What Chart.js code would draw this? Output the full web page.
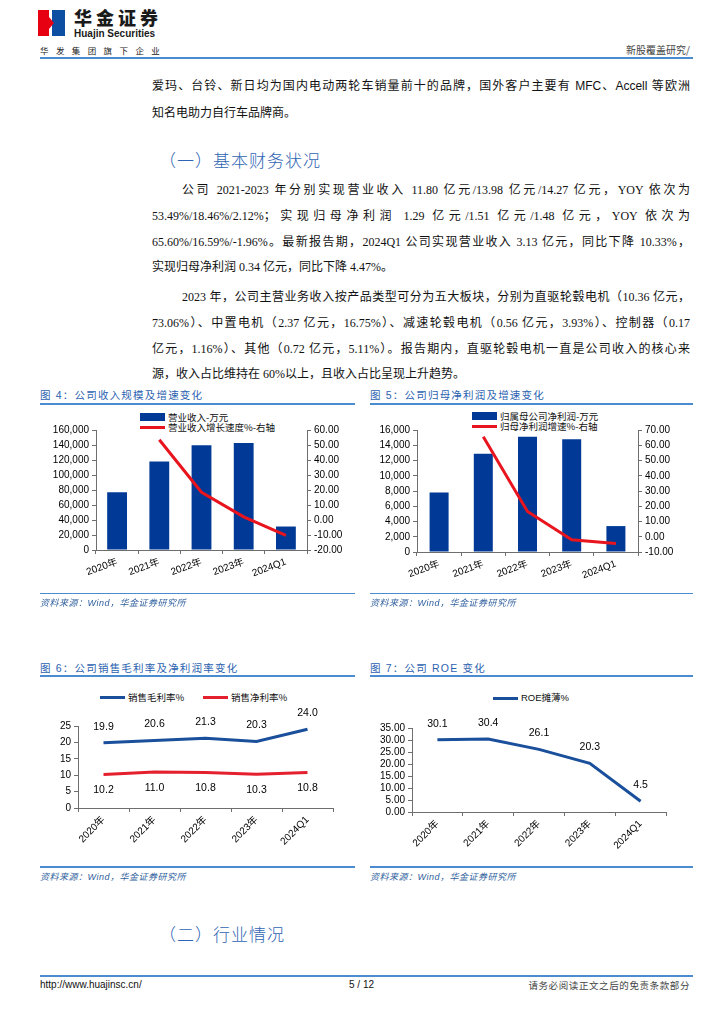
<html>
<head>
<meta charset="utf-8">
<script src="https://cdn.jsdelivr.net/npm/chart.js@4.4.1/dist/chart.umd.min.js"></script>
<style>
  body { margin: 0; width: 724px; height: 1024px; background: #fff; position: relative; overflow: hidden;
         font-family: "Liberation Sans", "Noto Sans CJK SC", sans-serif; color: #000; }
  .abs { position: absolute; }
  .line { position: absolute; height: 2px; background: #4a8ccf; }
  .body { position: absolute; font-family: "Liberation Serif", "Noto Sans CJK SC", serif; font-size: 12px;
          line-height: 16px; text-align: justify; text-align-last: justify; color: #111; }
  .last { text-align-last: left; }
  .head { position: absolute; font-family: "Noto Sans CJK SC"; font-size: 17px; font-weight: 300; color: #2e64b4;
          letter-spacing: 1px; line-height: 20px; }
  .figt { position: absolute; font-family: "Liberation Sans", "Noto Sans CJK SC"; font-size: 10.5px; color: #2b62b0;
          letter-spacing: 1.2px; line-height: 14px; }
  .src { position: absolute; font-family: "Liberation Sans", "Noto Sans CJK SC"; font-size: 9px; font-style: italic;
         color: #2f5f9e; line-height: 12px; letter-spacing: 0.5px; }
  .leg { position: absolute; font-family: "Noto Sans CJK SC"; font-size: 9.5px; color: #111; line-height: 12px; white-space: nowrap; }
  .box { position: absolute; }
</style>
</head>
<body>
<script>
  // chart values
  var years = ["2020年", "2021年", "2022年", "2023年", "2024Q1"];
  var revenue = [76900, 118000, 139800, 142700, 31300];          // 万元
  var revenueGrowth = [null, 53.49, 18.46, 2.12, -10.33];        // %
  var netProfit = [7800, 12900, 15100, 14800, 3400];             // 万元
  var profitGrowth = [null, 65.60, 16.59, -1.96, -4.47];         // %
  var grossMargin = [19.9, 20.6, 21.3, 20.3, 24.0];
  var netMargin = [10.2, 11.0, 10.8, 10.3, 10.8];
  var roe = [30.1, 30.4, 26.1, 20.3, 4.5];

  var revenueTicks = { min: 0, max: 160000, step: 20000 };
  var revenueGrowthTicks = { min: -20, max: 60, step: 10 };
  var profitTicks = { min: 0, max: 16000, step: 2000 };
  var profitGrowthTicks = { min: -10, max: 70, step: 10 };
  var marginTicks = { min: 0, max: 25, step: 5 };
  var roeTicks = { min: 0, max: 35, step: 5 };
</script>

<!-- header -->
<div class="abs" style="left:38px;top:10px;width:11px;height:26px;background:#e60012;"></div>
<div class="abs" style="left:52px;top:10px;width:13px;height:26px;background:#0b4ea2;"></div>
<div class="abs" style="left:49px;top:17px;width:0;height:0;border-top:6px solid transparent;border-bottom:6px solid transparent;border-left:5px solid #e60012;"></div>
<div class="abs" style="left:74px;top:6px;font-family:'Noto Sans CJK SC';font-weight:900;font-size:18px;line-height:22px;letter-spacing:4px;color:#1a1a1a;">华金证券</div>
<div class="abs" style="left:74px;top:28px;font-family:'Liberation Sans';font-weight:bold;font-size:10px;line-height:11px;color:#1a1a1a;">Huajin Securities</div>
<div class="abs" style="left:40px;top:44px;font-family:'Noto Sans CJK SC';font-size:8.5px;line-height:12px;letter-spacing:7.4px;color:#222;">华发集团旗下企业</div>
<div class="abs" style="right:34px;top:44px;font-family:'Noto Sans CJK SC';font-size:10px;line-height:12px;color:#444;">新股覆盖研究/</div>
<div class="line" style="left:40px;top:57px;width:653px;"></div>

<!-- body text -->
<div class="body" style="left:152px;top:78px;width:538px;font-family:'Liberation Sans','Noto Sans CJK SC';">爱玛、台铃、新日均为国内电动两轮车销量前十的品牌，国外客户主要有 MFC、Accell 等欧洲</div>
<div class="body last" style="left:152px;top:105px;width:538px;">知名电助力自行车品牌商。</div>

<div class="head" style="left:159px;top:150px;">（一）基本财务状况</div>

<div class="body" style="left:182px;top:182px;width:508px;">公司 2021-2023 年分别实现营业收入 11.80 亿元/13.98 亿元/14.27 亿元，YOY 依次为</div>
<div class="body" style="left:152px;top:208px;width:538px;">53.49%/18.46%/2.12%；实现归母净利润 1.29 亿元/1.51 亿元/1.48 亿元，YOY 依次为</div>
<div class="body" style="left:152px;top:234px;width:538px;">65.60%/16.59%/-1.96%。最新报告期，2024Q1 公司实现营业收入 3.13 亿元，同比下降 10.33%，</div>
<div class="body last" style="left:152px;top:259px;width:538px;">实现归母净利润 0.34 亿元，同比下降 4.47%。</div>

<div class="body" style="left:182px;top:289px;width:508px;">2023 年，公司主营业务收入按产品类型可分为五大板块，分别为直驱轮毂电机（10.36 亿元，</div>
<div class="body" style="left:152px;top:315px;width:538px;">73.06%）、中置电机（2.37 亿元，16.75%）、减速轮毂电机（0.56 亿元，3.93%）、控制器（0.17</div>
<div class="body" style="left:152px;top:341px;width:538px;">亿元，1.16%）、其他（0.72 亿元，5.11%）。报告期内，直驱轮毂电机一直是公司收入的核心来</div>
<div class="body last" style="left:152px;top:366px;width:538px;">源，收入占比维持在 60%以上，且收入占比呈现上升趋势。</div>

<!-- figure 4 / 5 frames -->
<div class="figt" style="left:40px;top:388px;">图 4：公司收入规模及增速变化</div>
<div class="line" style="left:40px;top:403px;width:315px;height:1.5px;"></div>
<div class="figt" style="left:370px;top:388px;">图 5：公司归母净利润及增速变化</div>
<div class="line" style="left:370px;top:403px;width:323px;height:1.5px;"></div>

<div class="abs" style="left:140px;top:413px;width:25px;height:8px;background:#003a96;"></div>
<div class="leg" style="left:168px;top:411px;">营业收入-万元</div>
<div class="abs" style="left:140px;top:425.5px;width:25px;height:3px;background:#e8141e;"></div>
<div class="leg" style="left:168px;top:421px;">营业收入增长速度%-右轴</div>

<div class="abs" style="left:472px;top:412px;width:25px;height:8px;background:#003a96;"></div>
<div class="leg" style="left:500px;top:410px;">归属母公司净利润-万元</div>
<div class="abs" style="left:472px;top:424.5px;width:25px;height:3px;background:#e8141e;"></div>
<div class="leg" style="left:500px;top:420px;">归母净利润增速%-右轴</div>

<div class="box" style="left:30px;top:420px;width:330px;height:175px;"><canvas id="revChart"></canvas></div>
<div class="box" style="left:360px;top:420px;width:340px;height:175px;"><canvas id="profitChart"></canvas></div>

<div class="line" style="left:40px;top:592.5px;width:315px;height:1.5px;"></div>
<div class="src" style="left:40px;top:597px;">资料来源：Wind，华金证券研究所</div>
<div class="line" style="left:370px;top:592.5px;width:323px;height:1.5px;"></div>
<div class="src" style="left:370px;top:597px;">资料来源：Wind，华金证券研究所</div>

<!-- figure 6 / 7 frames -->
<div class="figt" style="left:40px;top:661px;">图 6：公司销售毛利率及净利润率变化</div>
<div class="line" style="left:40px;top:675px;width:315px;height:1.5px;"></div>
<div class="figt" style="left:370px;top:661px;">图 7：公司 ROE 变化</div>
<div class="line" style="left:370px;top:675px;width:323px;height:1.5px;"></div>

<div class="abs" style="left:100px;top:695.5px;width:25px;height:3px;background:#1a4f9c;"></div>
<div class="leg" style="left:128px;top:691px;">销售毛利率%</div>
<div class="abs" style="left:203px;top:695.5px;width:25px;height:3px;background:#e5202e;"></div>
<div class="leg" style="left:231px;top:691px;">销售净利率%</div>

<div class="abs" style="left:493px;top:696.5px;width:25px;height:3px;background:#1a4f9c;"></div>
<div class="leg" style="left:521px;top:692px;font-family:'Liberation Sans','Noto Sans CJK SC';">ROE摊薄%</div>

<div class="box" style="left:30px;top:690px;width:330px;height:174px;"><canvas id="marginChart"></canvas></div>
<div class="box" style="left:360px;top:700px;width:340px;height:164px;"><canvas id="roeChart"></canvas></div>

<div class="line" style="left:40px;top:866px;width:315px;height:1.5px;"></div>
<div class="src" style="left:40px;top:871px;">资料来源：Wind，华金证券研究所</div>
<div class="line" style="left:370px;top:866px;width:323px;height:1.5px;"></div>
<div class="src" style="left:370px;top:871px;">资料来源：Wind，华金证券研究所</div>

<div class="head" style="left:159px;top:924px;">（二）行业情况</div>

<!-- footer -->
<div class="line" style="left:40px;top:975px;width:653px;height:1.5px;"></div>
<div class="abs" style="left:40px;top:979px;font-size:10px;line-height:12px;color:#111;">http://www.huajinsc.cn/</div>
<div class="abs" style="left:349px;top:979px;font-size:10px;line-height:12px;color:#111;">5 / 12</div>
<div class="abs" style="right:34px;top:979px;font-family:'Noto Sans CJK SC';font-size:9.5px;line-height:12px;color:#444;letter-spacing:0.6px;">请务必阅读正文之后的免责条款部分</div>

<script>
  Chart.defaults.font.family = '"Liberation Sans", "Noto Sans CJK SC", sans-serif';
  Chart.defaults.font.size = 10;
  Chart.defaults.color = '#000';
  Chart.defaults.animation = false;

  var axisColor = '#6e6e6e';
  var barBlue = '#003a96';
  var lineRed = '#e8141e';

  // draw values next to each point
  var valueLabels = {
    id: 'valueLabels',
    afterDatasetsDraw: function(chart, args, opts) {
      if (!opts.offsets) return;
      var ctx = chart.ctx;
      ctx.save();
      ctx.font = '10.5px "Liberation Sans"';
      ctx.fillStyle = '#000';
      ctx.textAlign = 'center';
      ctx.textBaseline = 'middle';
      chart.data.datasets.forEach(function(ds, i) {
        var meta = chart.getDatasetMeta(i);
        meta.data.forEach(function(pt, j) {
          ctx.fillText(ds.data[j].toFixed(1), pt.x, pt.y + opts.offsets[i]);
        });
      });
      ctx.restore();
    }
  };

  function fixWidth(w) { return function(s) { s.width = w; }; }
  function fixHeight(h) { return function(s) { s.height = h; }; }

  function yAxis(t, pos, width, fmt) {
    return {
      position: pos,
      min: t.min, max: t.max,
      afterFit: fixWidth(width),
      ticks: { stepSize: t.step, padding: 3, autoSkip: false, callback: fmt },
      grid: { display: true, drawOnChartArea: false, drawTicks: true, tickLength: 4, color: axisColor },
      border: { display: true, color: axisColor, width: 1 }
    };
  }

  function xAxis(height, rot) {
    return {
      offset: true,
      afterFit: fixHeight(height),
      ticks: { minRotation: rot, maxRotation: rot, padding: 2, autoSkip: false },
      grid: { display: true, offset: true, drawOnChartArea: false, drawTicks: true, tickLength: 4, color: axisColor },
      border: { display: true, color: axisColor, width: 1 }
    };
  }

  var thousands = function(v) { return v.toLocaleString('en-US'); };
  var twoDec = function(v) { return v.toFixed(2); };
  var plain = function(v) { return v; };

  function comboChart(id, bars, growth, leftT, rightT, layout) {
    return new Chart(document.getElementById(id), {
      type: 'bar',
      data: {
        labels: years,
        datasets: [
          { type: 'line', data: growth, yAxisID: 'y1', borderColor: lineRed, borderWidth: 3,
            pointRadius: 0, tension: 0, order: 0 },
          { type: 'bar', data: bars, yAxisID: 'y', backgroundColor: barBlue,
            barPercentage: layout.bar, categoryPercentage: 1, order: 1 }
        ]
      },
      options: {
        responsive: true, maintainAspectRatio: false,
        layout: { padding: { top: 10, left: 0, right: 0, bottom: 0 } },
        plugins: { legend: { display: false }, tooltip: { enabled: false } },
        scales: {
          x: xAxis(layout.xh, 20),
          y: yAxis(leftT, 'left', layout.lw, thousands),
          y1: yAxis(rightT, 'right', layout.rw, twoDec)
        }
      }
    });
  }

  var revChart = comboChart('revChart', revenue, revenueGrowth, revenueTicks, revenueGrowthTicks,
    { bar: 0.47, xh: 45, lw: 66, rw: 53 });
  var profitChart = comboChart('profitChart', netProfit, profitGrowth, profitTicks, profitGrowthTicks,
    { bar: 0.43, xh: 43, lw: 57, rw: 62 });

  var marginChart = new Chart(document.getElementById('marginChart'), {
    type: 'line',
    data: {
      labels: years,
      datasets: [
        { data: grossMargin, borderColor: '#1a4f9c', borderWidth: 3, pointRadius: 0, tension: 0 },
        { data: netMargin, borderColor: '#e5202e', borderWidth: 3, pointRadius: 0, tension: 0 }
      ]
    },
    options: {
      responsive: true, maintainAspectRatio: false,
      layout: { padding: { top: 36, left: 0, right: 27, bottom: 0 } },
      plugins: { legend: { display: false }, tooltip: { enabled: false }, valueLabels: { offsets: [-16, 16] } },
      scales: {
        x: xAxis(56, 45),
        y: yAxis(marginTicks, 'left', 48, plain)
      }
    },
    plugins: [valueLabels]
  });

  var roeChart = new Chart(document.getElementById('roeChart'), {
    type: 'line',
    data: {
      labels: years,
      datasets: [
        { data: roe, borderColor: '#1a4f9c', borderWidth: 3, pointRadius: 0, tension: 0 }
      ]
    },
    options: {
      responsive: true, maintainAspectRatio: false,
      layout: { padding: { top: 28, left: 0, right: 34, bottom: 0 } },
      plugins: { legend: { display: false }, tooltip: { enabled: false }, valueLabels: { offsets: [-16] } },
      scales: {
        x: xAxis(52, 45),
        y: yAxis(roeTicks, 'left', 52, twoDec)
      }
    },
    plugins: [valueLabels]
  });
</script>
</body>
</html>
